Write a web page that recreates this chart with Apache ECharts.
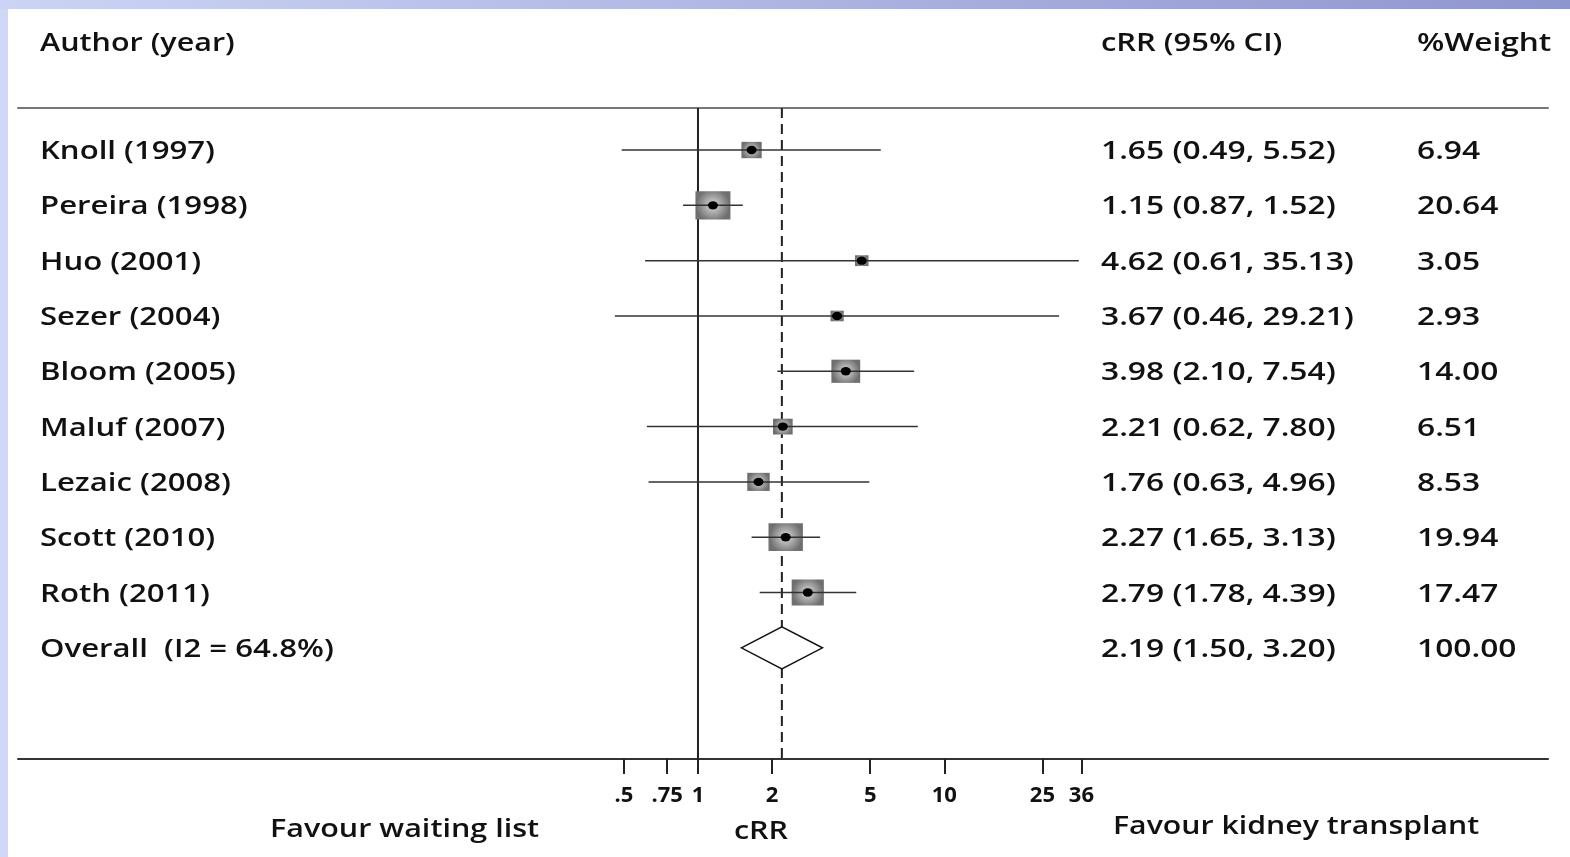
<!DOCTYPE html>
<html><head><meta charset="utf-8">
<script src="https://cdn.jsdelivr.net/npm/echarts@6/dist/echarts.min.js"></script>
<style>html,body{margin:0;padding:0;background:#fff}#c{width:1570px;height:857px}</style>
</head><body><div id="c"></div>
<script>
// ---- data ----
const authors = ['Knoll (1997)', 'Pereira (1998)', 'Huo (2001)', 'Sezer (2004)', 'Bloom (2005)', 'Maluf (2007)', 'Lezaic (2008)', 'Scott (2010)', 'Roth (2011)'];
const rr      = [1.65, 1.15, 4.62, 3.67, 3.98, 2.21, 1.76, 2.27, 2.79];
const lower   = [0.49, 0.87, 0.61, 0.46, 2.10, 0.62, 0.63, 1.65, 1.78];
const upper   = [5.52, 1.52, 35.13, 29.21, 7.54, 7.80, 4.96, 3.13, 4.39];
const weights = [6.94, 20.64, 3.05, 2.93, 14.00, 6.51, 8.53, 19.94, 17.47];
const overallLabel = 'Overall  (I2 = 64.8%)';
const overallRR = 2.19, overallLower = 1.50, overallUpper = 3.20, overallWeight = 100.00;
const tickValues = [0.5, 0.75, 1, 2, 5, 10, 25, 36];
const tickLabels = ['.5', '.75', '1', '2', '5', '10', '25', '36'];
const headers = ['Author (year)', 'cRR (95% CI)', '%Weight'];
const axisTitle = 'cRR';
const favourLeft = 'Favour waiting list';
const favourRight = 'Favour kidney transplant';

// ---- derived ----
const ln = Math.log;
const tickLog = tickValues.map(ln);
const fmt = v => v.toFixed(2);
const allLabels = authors.concat([overallLabel]);
const allCI = rr.map((v, i) => `${fmt(v)} (${fmt(lower[i])}, ${fmt(upper[i])})`)
  .concat([`${fmt(overallRR)} (${fmt(overallLower)}, ${fmt(overallUpper)})`]);
const allW = weights.map(fmt).concat([fmt(overallWeight)]);

const FONT = '"Open Sans", "DejaVu Sans", sans-serif';
const TXT = '#111';

function gtext(text, x, y, align, sx) {
  return {type: 'text', x: x, y: y + 2, scaleX: sx || 1.235, silent: true,
    style: {text: text, fill: TXT, fontSize: 25, fontWeight: 600, fontFamily: FONT, align: align || 'left', verticalAlign: 'middle'}};
}

const chart = echarts.init(document.getElementById('c'));
const XMIN = -6.355, XMAX = 7.944;

chart.setOption({
  animation: false,
  backgroundColor: '#fff',
  grid: {left: 18, right: 22, top: 108, bottom: 98},
  xAxis: [{
    type: 'value', min: XMIN, max: XMAX, position: 'bottom',
    splitLine: {show: false},
    axisLine: {show: true, onZero: false, lineStyle: {color: '#333', width: 2}},
    axisTick: {show: true, customValues: tickLog, length: 15, lineStyle: {color: '#222', width: 2}},
    axisLabel: {show: true, customValues: tickLog, margin: 26, color: TXT, fontSize: 22, fontWeight: 'bold', fontFamily: FONT,
      formatter: v => { const k = tickLog.findIndex(t => Math.abs(t - v) < 1e-6); return k >= 0 ? tickLabels[k] : ''; }}
  }, {
    type: 'value', min: XMIN, max: XMAX, position: 'top',
    splitLine: {show: false}, axisTick: {show: false}, axisLabel: {show: false},
    axisLine: {show: true, onZero: false, lineStyle: {color: '#777', width: 2}}
  }],
  yAxis: {type: 'value', inverse: true, min: -0.76, max: 11.01, show: false},
  graphic: [
    {type: 'rect', shape: {x: 0, y: 0, width: 8, height: 857}, style: {fill: '#d0d8f7'}, silent: true},
    {type: 'rect', shape: {x: 0, y: 0, width: 1570, height: 9}, silent: true,
      style: {fill: new echarts.graphic.LinearGradient(0, 0, 1, 0, [{offset: 0, color: '#ccd4f5'}, {offset: 1, color: '#8e96cf'}])}},
    gtext(headers[0], 40, 42, 'left', 1.22),
    gtext(headers[1], 1101, 42, 'left', 1.235),
    gtext(headers[2], 1417, 42, 'left', 1.265),
    gtext(favourLeft, 270, 828, 'left', 1.22),
    gtext(axisTitle, 761, 830, 'center', 1.22),
    gtext(favourRight, 1113, 825, 'left', 1.21)
  ],
  series: [
    { // reference lines at 1 and at the pooled estimate
      type: 'custom', z: 1, silent: true,
      data: [[0, 0], [ln(overallRR), 1]],
      renderItem: (params, api) => {
        const cs = params.coordSys;
        const x = api.coord([api.value(0), 0])[0];
        const dashed = api.value(1) === 1;
        return {type: 'line', shape: {x1: x, y1: cs.y, x2: x, y2: cs.y + cs.height},
          style: {stroke: '#222', lineWidth: 2, lineDash: dashed ? [10, 6] : null}};
      }
    },
    { // study markers
      type: 'custom', z: 2, silent: true,
      data: rr.map((v, i) => [ln(v), i, ln(lower[i]), ln(upper[i]), weights[i]]),
      renderItem: (params, api) => {
        const c = api.coord([api.value(0), api.value(1)]);
        const a = api.coord([api.value(2), api.value(1)]);
        const b = api.coord([api.value(3), api.value(1)]);
        const s = Math.sqrt(api.value(4));
        const w = 7.7 * s, h = 6.2 * s;
        return {type: 'group', children: [
          {type: 'rect', shape: {x: c[0] - w / 2, y: c[1] - h / 2, width: w, height: h},
            style: {fill: new echarts.graphic.RadialGradient(0.5, 0.5, 0.6, [
              {offset: 0, color: '#f0f0f0'}, {offset: 0.35, color: '#b5b5b5'}, {offset: 1, color: '#6f6f6f'}])}},
          {type: 'line', shape: {x1: a[0], y1: a[1], x2: b[0], y2: b[1]}, style: {stroke: '#333', lineWidth: 1.5}},
          {type: 'circle', x: c[0], y: c[1], scaleX: 1.2, shape: {cx: 0, cy: 0, r: 4.2}, style: {fill: '#000'}}
        ]};
      }
    },
    { // pooled diamond
      type: 'custom', z: 2, silent: true,
      data: [[ln(overallRR), authors.length, ln(overallLower), ln(overallUpper)]],
      renderItem: (params, api) => {
        const c = api.coord([api.value(0), api.value(1)]);
        const a = api.coord([api.value(2), api.value(1)]);
        const b = api.coord([api.value(3), api.value(1)]);
        const hh = 21;
        return {type: 'polygon', shape: {points: [[a[0], c[1]], [c[0], c[1] - hh], [b[0], c[1]], [c[0], c[1] + hh]]},
          style: {fill: '#fff', stroke: '#111', lineWidth: 1.5}};
      }
    },
    { // table text
      type: 'custom', z: 3, silent: true,
      data: allLabels.map((_, i) => [0, i]),
      renderItem: (params, api) => {
        const i = params.dataIndex;
        const y = api.coord([0, api.value(1)])[1];
        return {type: 'group', children: [
          gtext(allLabels[i], 40, y, 'left', 1.245),
          gtext(allCI[i], 1101, y, 'left', 1.27),
          gtext(allW[i], 1417, y, 'left', 1.27)
        ]};
      }
    }
  ]
});
</script>
</body></html>
